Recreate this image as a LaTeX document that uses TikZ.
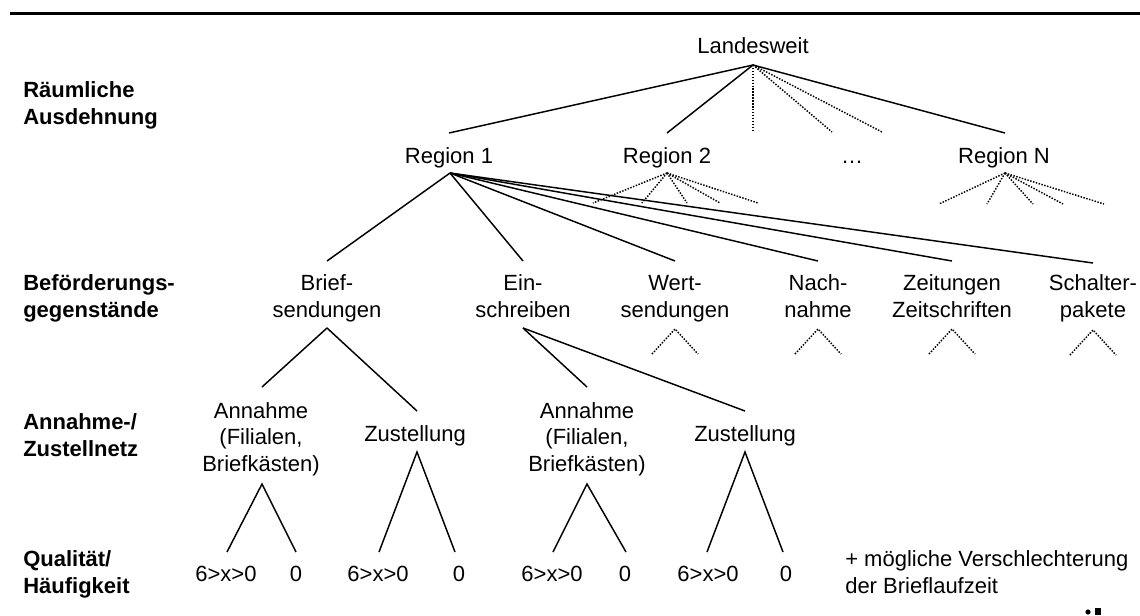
\documentclass[tikz,border=0pt]{standalone}
\usepackage{fontspec}
\setmainfont{Liberation Sans}
\usetikzlibrary{calc}
\begin{document}
\begin{tikzpicture}[x=0.75pt,y=-0.75pt,
  lbl/.style={font=\fontsize{16.5pt}{19.75pt}\selectfont, inner sep=0pt, align=center, anchor=base},
  side/.style={font=\fontsize{16.5pt}{19.75pt}\selectfont\bfseries, inner sep=0pt, align=left, anchor=base west},
  conn/.style={line width=1.1pt},
  dotln/.style={line width=1.1pt, dash pattern=on 1.1pt off 1.1pt}]
\useasboundingbox[fill=white] (0,0) rectangle (1140,615);
% top rule
\coordinate (ruleL) at (10,13.5);
\coordinate (ruleR) at (1140,13.5);
\draw[line width=2pt] (ruleL) -- (ruleR);

% side labels (base = last line)
\node[side] (s1) at (23,124) {Räumliche\\Ausdehnung};
\node[side] (s2) at (23,317) {Beförderungs-\\gegenstände};
\node[side] (s3) at (23,456) {Annahme-/\\Zustellnetz};
\node[side] (s4) at (23,593) {Qualität/\\Häufigkeit};

% level 0/1 labels
\node[lbl] (land) at (753,53) {Landesweit};
\node[lbl] (r1) at (449,163) {Region 1};
\node[lbl] (r2) at (667,163) {Region 2};
\node[lbl] (rd) at (852,163) {…};
\node[lbl] (rn) at (1004,163) {Region N};

% level 2 labels
\node[lbl] (brief) at (327,317) {Brief-\\sendungen};
\node[lbl] (ein) at (523,317) {Ein-\\schreiben};
\node[lbl] (wert) at (675,317) {Wert-\\sendungen};
\node[lbl] (nach) at (818,317) {Nach-\\nahme};
\node[lbl] (zeit) at (952,317) {Zeitungen\\Zeitschriften};
\node[lbl] (schalt) at (1093,317) {Schalter-\\pakete};

% level 3 labels
\node[lbl] (ann1) at (261,471) {Annahme\\(Filialen,\\Briefkästen)};
\node[lbl] (zus1) at (415,441) {Zustellung};
\node[lbl] (ann2) at (587,471) {Annahme\\(Filialen,\\Briefkästen)};
\node[lbl] (zus2) at (745,441) {Zustellung};

% level 4 labels
\node[lbl] (q1a) at (226,581) {6>x>0};
\node[lbl] (q1b) at (296,581) {0};
\node[lbl] (q2a) at (378,581) {6>x>0};
\node[lbl] (q2b) at (459,581) {0};
\node[lbl] (q3a) at (552,581) {6>x>0};
\node[lbl] (q3b) at (625,581) {0};
\node[lbl] (q4a) at (708,581) {6>x>0};
\node[lbl] (q4b) at (786,581) {0};
\node[lbl, align=left, anchor=base west] (note) at (845,593) {+ mögliche Verschlechterung\\der Brieflaufzeit};

% connector points
\coordinate (land-s) at (753,65);
\coordinate (r1-n) at (449,133);
\coordinate (r2-n) at (667,133);
\coordinate (rn-n) at (1005,133);
\coordinate (d1) at (753,132);
\coordinate (d2) at (832,132);
\coordinate (d3) at (882,132);

\coordinate (r1-s) at (450,173);
\coordinate (r2-s) at (667,173);
\coordinate (rn-s) at (1005,173);
\coordinate (brief-n) at (327,261);
\coordinate (ein-n) at (523,261);
\coordinate (wert-n) at (675,261);
\coordinate (nach-n) at (818,261);
\coordinate (zeit-n) at (952,261);
\coordinate (schalt-n) at (1093,263);

\coordinate (brief-s) at (327,328);
\coordinate (ein-s) at (523,328);
\coordinate (wert-s) at (675,329);
\coordinate (nach-s) at (818,329);
\coordinate (zeit-s) at (952,329);
\coordinate (schalt-s) at (1093,330);

\coordinate (ann1-n) at (262,387);
\coordinate (zus1-n) at (417,411);
\coordinate (ann2-n) at (587,387);
\coordinate (zus2-n) at (745,411);

\coordinate (ann1-s) at (262,484);
\coordinate (zus1-s) at (417,452);
\coordinate (ann2-s) at (587,484);
\coordinate (zus2-s) at (745,452);

\coordinate (q1a-n) at (227,552);
\coordinate (q1b-n) at (296,552);
\coordinate (q2a-n) at (379,552);
\coordinate (q2b-n) at (455,552);
\coordinate (q3a-n) at (553,552);
\coordinate (q3b-n) at (626,552);
\coordinate (q4a-n) at (707,552);
\coordinate (q4b-n) at (783,552);

% level 0 -> 1
\draw[conn] (land-s) -- (r1-n);
\draw[conn] (land-s) -- (r2-n);
\draw[conn] (land-s) -- (rn-n);
\draw[dotln] (land-s) -- (d1);
\draw[dotln] (land-s) -- (d2);
\draw[dotln] (land-s) -- (d3);

% region 2 and N fans
\foreach \x in {593,642,687,720,758} \draw[dotln] (r2-s) -- (\x,203);
\foreach \x in {939,987,1033,1063,1104} \draw[dotln] (rn-s) -- (\x,204);

% region 1 -> level 2
\foreach \t in {brief,ein,wert,nach,zeit,schalt} \draw[conn] (r1-s) -- (\t-n);

% small dotted fans under level 2
\foreach \t in {wert,nach,zeit,schalt} {
  \draw[dotln] ($(\t-s)+(-23,25)$) -- (\t-s) -- ($(\t-s)+(23,25)$);
}

% level 2 -> 3
\draw[conn] (brief-s) -- (ann1-n);
\draw[conn] (brief-s) -- (zus1-n);
\draw[conn] (ein-s) -- (ann2-n);
\draw[conn] (ein-s) -- (zus2-n);

% level 3 -> 4
\draw[conn] (q1a-n) -- (ann1-s) -- (q1b-n);
\draw[conn] (q2a-n) -- (zus1-s) -- (q2b-n);
\draw[conn] (q3a-n) -- (ann2-s) -- (q3b-n);
\draw[conn] (q4a-n) -- (zus2-s) -- (q4b-n);

% cropped logo fragment
\fill (1088,612) circle (2.6);
\fill (1095,608) rectangle (1101,615);
\end{tikzpicture}
\end{document}
